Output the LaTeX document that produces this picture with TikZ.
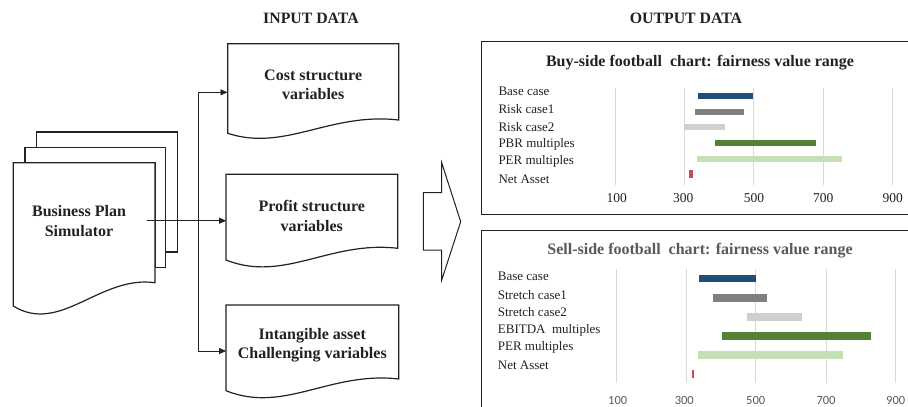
\documentclass[tikz,border=0pt]{standalone}
\usepackage{fontspec}
\setmainfont{Liberation Serif}
\newfontfamily\axisfont{Carlito}
\usetikzlibrary{arrows.meta}
\definecolor{cBlue}{HTML}{1F4E79}
\definecolor{cGray}{HTML}{7F7F7F}
\definecolor{cLGray}{HTML}{CFCFCF}
\definecolor{cGreen}{HTML}{548235}
\definecolor{cLGreen}{HTML}{C5E0B4}
\definecolor{cRed}{HTML}{C0504D}
\definecolor{cGrid}{HTML}{D9D9D9}
\definecolor{cTitle}{HTML}{595959}
\definecolor{cLine}{HTML}{222222}
\tikzset{
  docline/.style={draw=cLine, line width=1.2pt, fill=white},
  boxtext/.style={font=\fontsize{16}{19.5}\selectfont\bfseries, align=center, text=cLine, inner sep=0pt},
  hdr/.style={font=\fontsize{15.8}{19}\selectfont\bfseries, text=cLine, inner sep=0pt},
  conn/.style={draw=cLine, line width=0.7pt},
  conarrow/.style={conn, -{Triangle[length=7pt,width=6pt]}},
  charttitle/.style={font=\fontsize{16}{19}\selectfont\bfseries, inner sep=0pt},
  lbl/.style={font=\fontsize{13}{15}\selectfont, text=cLine, anchor=west, inner sep=0pt},
  axnum/.style={font=\fontsize{13.5}{15}\selectfont, text=cLine, inner sep=0pt},
  axnumb/.style={font=\axisfont\fontsize{12.5}{15}\selectfont, text=cTitle, inner sep=0pt},
  grid/.style={draw=cGrid, line width=1pt},
  chartbox/.style={draw=cLine, line width=1.2pt, fill=white}
}
\begin{document}
\begin{tikzpicture}[x=1pt,y=-1pt]
\clip (0,0) rectangle (908,407);
\fill[white] (0,0) rectangle (908,407);

% headers
\node[hdr] (inhdr) at (311,18.3) {INPUT DATA};
\node[hdr] (outhdr) at (686,18.3) {OUTPUT DATA};

% stacked documents
\path[docline] (36.7,132) -- (177.7,132) -- (177.7,252) -- (165.7,252) -- (165.7,147.7) -- (36.7,147.7) -- cycle;
\path[docline] (25,147.7) -- (165.7,147.7) -- (165.7,267.7) -- (155,267.7) -- (155,162.7) -- (25,162.7) -- cycle;
\path[docline] (13.3,162.7) -- (155,162.7) -- (155,282.7)
  .. controls (100,275) and (60,335) .. (13.3,306) -- cycle;
\node[boxtext] (bps) at (79,221) {Business Plan\\Simulator};

% input boxes
\path[docline] (227.7,43.7) -- (398.7,43.7) -- (398.7,120)
  .. controls (330,112) and (285,152) .. (227.7,133.3) -- cycle;
\node[boxtext, minimum width=171pt, minimum height=76pt] (cost) at (313.2,85) {Cost structure\\variables};
\path[docline] (226,174.3) -- (397.7,174.3) -- (397.7,248.3)
  .. controls (330,240.3) and (284,283) .. (226,260) -- cycle;
\node[boxtext, minimum width=171pt, minimum height=74pt] (profit) at (311.8,216) {Profit structure\\variables};
\path[docline] (226,305) -- (398.7,305) -- (398.7,379)
  .. controls (330,371) and (284,414) .. (226,390.7) -- cycle;
\node[boxtext, minimum width=172pt, minimum height=74pt] (intang) at (312.3,345) {Intangible asset\\Challenging variables};

% connectors
\coordinate (src) at (146.7,220.7);
\coordinate (splittop) at (198.3,92.3);
\coordinate (splitbot) at (198.3,351);
\draw[conarrow] (src) -- (profit.west |- src);
\draw[conn] (splittop) -- (splitbot);
\draw[conarrow] (splittop) -- (cost.west |- splittop);
\draw[conarrow] (splitbot) -- (intang.west |- splitbot);

% block arrow
\path[draw=cLine, line width=1pt, fill=white] (423.3,192.7) -- (441.7,192.7) -- (441.7,162.7) -- (460.7,221.7)
  -- (441.7,280) -- (441.7,250) -- (423.3,250) -- cycle;

% chart 1
\path[chartbox] (481.7,41.7) rectangle (915,214.3);
\node[charttitle, text=cLine] (t1) at (700,62.3) {Buy-side football\ \ chart: fairness value range};
\foreach \gx in {615,684.3,753.7,823,892.7} {\draw[grid] (\gx,88.3) -- (\gx,185);}
\node[lbl] (l1a) at (498.3,91) {Base case};
\node[lbl] (l1b) at (498.3,109.3) {Risk case1};
\node[lbl] (l1c) at (498.3,126.7) {Risk case2};
\node[lbl] (l1d) at (498.3,144) {PBR multiples};
\node[lbl] (l1e) at (498.3,161.7) {PER multiples};
\node[lbl] (l1f) at (498.3,179) {Net Asset};
\fill[cBlue] (697.7,93.3) rectangle (753.3,99.3);
\fill[cGray] (695,109.3) rectangle (743.7,115);
\fill[cLGray] (684.3,124.3) rectangle (725,130);
\fill[cGreen] (715,139.5) rectangle (815.7,146.2);
\fill[cLGreen] (696.7,155.5) rectangle (841.7,161.7);
\fill[cRed] (689,170) rectangle (692.7,177.5);
\node[axnum] (a1a) at (616.7,198.3) {100};
\node[axnum] (a1b) at (683.3,198.3) {300};
\node[axnum] (a1c) at (754,198.3) {500};
\node[axnum] (a1d) at (823.3,198.3) {700};
\node[axnum] (a1e) at (892.7,198.3) {900};

% chart 2
\path[chartbox] (481.7,230.7) rectangle (915,420);
\node[charttitle, text=cTitle] (t2) at (700,251) {Sell-side football\ \ chart: fairness value range};
\foreach \gx in {616.7,686,755.7,826,895.3} {\draw[grid] (\gx,269.3) -- (\gx,383.3);}
\node[lbl] (l2a) at (497.7,276.7) {Base case};
\node[lbl] (l2b) at (497.7,295) {Stretch case1};
\node[lbl] (l2c) at (497.7,311.7) {Stretch case2};
\node[lbl] (l2d) at (497.7,330) {EBITDA\ \ multiples};
\node[lbl] (l2e) at (497.7,347.7) {PER multiples};
\node[lbl] (l2f) at (497.7,365) {Net Asset};
\fill[cBlue] (699.3,274.5) rectangle (755.7,282.3);
\fill[cGray] (713.3,293.5) rectangle (767.3,301.5);
\fill[cLGray] (747.3,312.7) rectangle (801.7,320.7);
\fill[cGreen] (722.3,331.7) rectangle (870.7,340);
\fill[cLGreen] (697.7,351) rectangle (843.3,359.3);
\fill[cRed] (691.7,370) rectangle (693.7,378.3);
\node[axnumb] (a2a) at (617.7,400) {100};
\node[axnumb] (a2b) at (684.3,400) {300};
\node[axnumb] (a2c) at (755.7,400) {500};
\node[axnumb] (a2d) at (826,400) {700};
\node[axnumb] (a2e) at (895.7,400) {900};
\end{tikzpicture}
\end{document}
